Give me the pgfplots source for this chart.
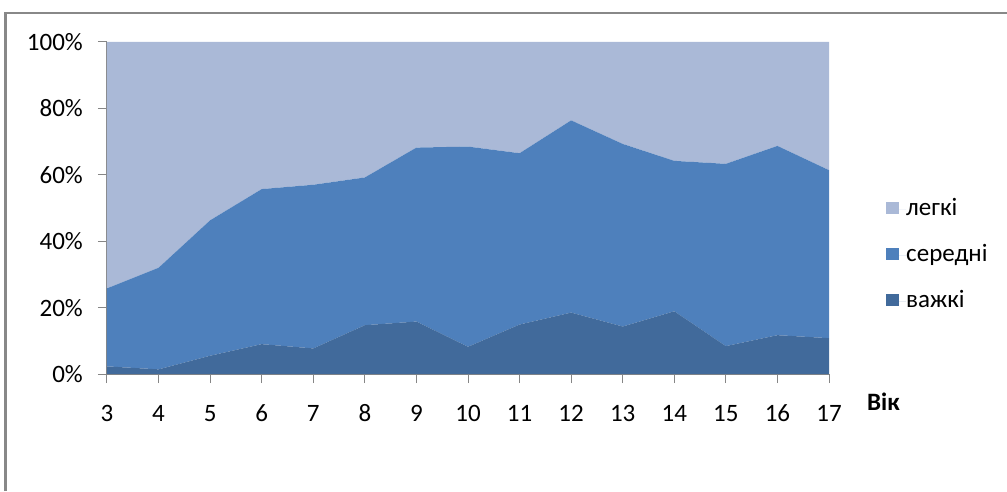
\documentclass[border=0pt]{standalone}
\usepackage{fontspec}
\setmainfont{Carlito}
\usepackage{pgfplots}
\pgfplotsset{compat=1.18}
\definecolor{light}{HTML}{AAB9D7}
\definecolor{mid}{HTML}{4E80BC}
\definecolor{dark}{HTML}{416A9B}
\definecolor{axgray}{HTML}{868686}
\definecolor{framegray}{HTML}{888888}
\begin{document}
\fontsize{25}{30}\selectfont
\begin{tikzpicture}
\useasboundingbox (0pt,0pt) rectangle (1007pt,491pt);
\draw[framegray, line width=2.5pt] (5.5pt,0pt) -- (5.5pt,478pt) -- (1007pt,478pt);
\begin{axis}[
  at={(107pt,117pt)}, anchor=south west,
  scale only axis, width=722pt, height=332pt,
  xmin=3, xmax=17, ymin=0, ymax=100,
  stack plots=y,
  axis x line=bottom, axis y line=left,
  axis line style={-, axgray, line width=1pt},
  xtick={3,...,17},
  ytick={0,20,...,100},
  yticklabels={0\%,20\%,40\%,60\%,80\%,100\%},
  tick align=outside, major tick length=9pt,
  tick style={axgray, line width=1pt},
  tick label style={font=\fontsize{25}{30}\selectfont},
  /pgf/number format/assume math mode=true,
  xticklabel style={anchor=base, inner sep=0pt, yshift=-38pt},
  yticklabel style={anchor=east, inner sep=0pt, xshift=-15pt},
  xlabel={\textbf{Вік}},
  xlabel style={at={(rel axis cs:1,0)}, anchor=base west, inner sep=0pt, xshift=38pt, yshift=-36pt, font=\fontsize{25}{30}\selectfont},
  reverse legend,
  legend cell align=left,
  legend style={at={(rel axis cs:1.079,0.358)}, anchor=west, draw=none, fill=none, inner sep=0pt, row sep=22pt,
    font=\fontsize{25}{30}\selectfont,
    nodes={inner sep=0pt, text height=18pt, text depth=6pt}},
  legend image code/.code={\path (0pt,0pt) -- (20pt,0pt); \fill[#1] (0pt,-5pt) rectangle (13pt,7pt);},
]
\addplot[fill=dark, draw=none] coordinates {
(3,2.3) (4,1.4) (5,5.5) (6,9.0) (7,7.7) (8,14.7) (9,15.8) (10,8.2) (11,14.9) (12,18.5) (13,14.3) (14,18.9) (15,8.4) (16,11.7) (17,10.8)
} \closedcycle;
\addplot[fill=mid, draw=none] coordinates {
(3,23.5) (4,30.6) (5,40.8) (6,46.7) (7,49.3) (8,44.5) (9,52.4) (10,60.3) (11,51.6) (12,57.9) (13,55.0) (14,45.3) (15,54.9) (16,57.0) (17,50.6)
} \closedcycle;
\addplot[fill=light, draw=none] coordinates {
(3,74.2) (4,68.0) (5,53.7) (6,44.3) (7,43.0) (8,40.8) (9,31.8) (10,31.5) (11,33.5) (12,23.6) (13,30.7) (14,35.8) (15,36.7) (16,31.3) (17,38.6)
} \closedcycle;
\legend{важкі,середні,легкі}
\end{axis}
\end{tikzpicture}
\end{document}
